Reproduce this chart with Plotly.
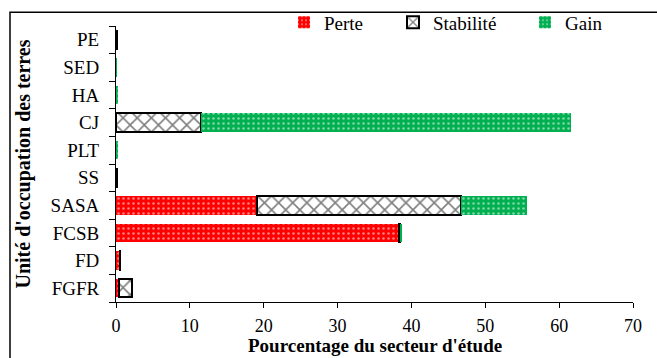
import plotly.graph_objects as go

categories = ["FGFR", "FD", "FCSB", "SASA", "SS", "PLT", "CJ", "HA", "SED", "PE"]
perte = [0.4, 0.5, 38.3, 19.1, 0, 0, 0, 0, 0, 0]
stabilite = [1.8, 0.1, 0.1, 27.6, 0.1, 0, 11.5, 0, 0, 0.1]
gain = [0, 0, 0.3, 8.9, 0, 0.15, 50.1, 0.25, 0.1, 0]
x_ticks = [0, 10, 20, 30, 40, 50, 60, 70]
x_title = "Pourcentage du secteur d'étude"
y_title = "Unité d'occupation des terres"

FONT = "Liberation Serif"
RED = "#ff0000"
GREEN = "#00b050"

fig = go.Figure()
fig.add_trace(go.Bar(
    y=categories, x=perte, orientation="h", name="Perte", legend="legend",
    showlegend=True,
    marker=dict(color=RED, line=dict(width=0),
                pattern=dict(shape=".", bgcolor=RED, fgcolor="white", size=5, solidity=0.2)),
))
fig.add_trace(go.Bar(
    y=categories, x=stabilite, orientation="h", name="Stabilité", legend="legend2",
    showlegend=True,
    marker=dict(color="white", line=dict(width=2, color="black"),
                pattern=dict(shape="x", bgcolor="white", fgcolor="black", size=10, solidity=0.3)),
))
fig.add_trace(go.Bar(
    y=categories, x=gain, orientation="h", name="Gain", legend="legend3",
    showlegend=True,
    marker=dict(color=GREEN, line=dict(width=0),
                pattern=dict(shape=".", bgcolor=GREEN, fgcolor="white", size=5, solidity=0.2)),
))

leg_common = dict(orientation="h", yanchor="middle", y=1.013, xanchor="left",
                  font=dict(family=FONT, size=19, color="black"),
                  bgcolor="rgba(0,0,0,0)", borderwidth=0, visible=True)

fig.update_layout(
    width=657, height=358,
    margin=dict(l=116, r=24, t=26, b=56, autoexpand=False),
    paper_bgcolor="white", plot_bgcolor="white",
    barmode="stack", bargap=0.33, showlegend=True,
    font=dict(family=FONT, size=18, color="black"),
    legend=dict(x=(284 - 116) / 517, **leg_common),
    legend2=dict(x=(393 - 116) / 517, **leg_common),
    legend3=dict(x=(525 - 116) / 517, **leg_common),
    xaxis=dict(
        range=[0, 70], tickvals=x_ticks, ticktext=[str(v) for v in x_ticks],
        showline=True, linecolor="black", linewidth=1,
        ticks="outside", ticklen=5, tickcolor="black", ticklabelstandoff=2,
        showgrid=False, zeroline=False, automargin=False,
        tickfont=dict(family=FONT, size=18),
    ),
    yaxis=dict(
        categoryorder="array", categoryarray=categories,
        showline=True, linecolor="black", linewidth=1,
        ticks="outside", ticklen=6, tickcolor="black", tickson="boundaries",
        ticklabelstandoff=12,
        showgrid=False, zeroline=False, automargin=False,
        tickfont=dict(family=FONT, size=19),
        title=dict(text="<b>" + y_title + "</b>", standoff=14,
                   font=dict(family=FONT, size=20)),
    ),
    annotations=[dict(text="<b>" + x_title + "</b>", xref="paper", yref="paper",
                      x=0.5, y=-(346 - 302) / 276.3, xanchor="center", yanchor="middle",
                      showarrow=False, borderpad=0,
                      font=dict(family=FONT, size=19, color="black"))],
    shapes=[dict(type="rect", xref="paper", yref="paper",
                 x0=(10 - 116) / 517, x1=1.2, y0=-0.4, y1=1 + (25.7 - 12) / 276.3,
                 line=dict(color="black", width=1.5), fillcolor="rgba(0,0,0,0)",
                 layer="above")],
)

fig.write_html("out.html", config={"displayModeBar": False},
               post_script="document.body.style.margin='0';")
